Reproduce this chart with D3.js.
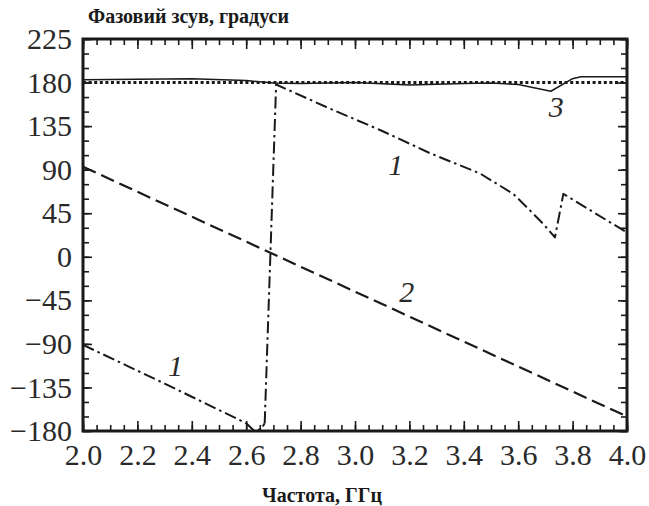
<!DOCTYPE html>
<html><head><meta charset="utf-8">
<script src="https://cdn.jsdelivr.net/npm/d3@7"></script>
<style>
body{margin:0;background:#fff;}
svg{display:block;}
svg text{font-family:"Liberation Serif","Times New Roman",serif;}
</style></head>
<body>
<svg id="c" width="649" height="506"></svg>
<script>
// Curve 1 (dash-dot): frequency (GHz) and phase (deg)
const curve1aFreq = [2.0, 2.3, 2.6, 2.63, 2.655, 2.668];
const curve1aPhase = [-91, -131, -172, -180, -178, -172];
const curve1bFreq = [2.668, 2.71, 2.908, 3.092, 3.276, 3.46, 3.582, 3.643, 3.692, 3.735, 3.766, 4.0];
const curve1bPhase = [-172, 178, 153, 131, 107, 86, 65, 48, 34, 20, 65, 25];
// Curve 2 (dashed)
const curve2Freq = [2.0, 4.0];
const curve2Phase = [93, -165];
// Curve 3 (solid)
const curve3Freq = [2.0, 2.2, 2.4, 2.6, 2.7, 2.8, 3.0, 3.2, 3.4, 3.5, 3.6, 3.72, 3.8, 3.83, 4.0];
const curve3Phase = [183, 183.5, 184, 182, 179.5, 179, 180, 177.5, 179, 179.5, 178, 171, 184, 186, 186];
// Reference (dotted)
const refFreq = [2.0, 4.0];
const refPhase = [180, 180];
// Ticks
const xTickLabels = [2.0, 2.2, 2.4, 2.6, 2.8, 3.0, 3.2, 3.4, 3.6, 3.8, 4.0];
const yTickLabels = [-180, -135, -90, -45, 0, 45, 90, 135, 180, 225];
const curveLabels = [
  {t: "1", f: 3.15, v: 95},
  {t: "1", f: 2.34, v: -112},
  {t: "2", f: 3.19, v: -36},
  {t: "3", f: 3.74, v: 155}
];
const titleY = "Фазовий зсув, градуси";
const titleX = "Частота, ГГц";

const L = 83, R = 627, T = 39, B = 431;
const svg = d3.select("#c");
const x = d3.scaleLinear().domain([2, 4]).range([L, R]);
const y = d3.scaleLinear().domain([-180, 225]).range([B, T]);
const ink = "#1a1a1a";
const serif = "'Liberation Serif','Times New Roman',serif";

const line = (fs, ps) => d3.line().x((d,i)=>x(fs[i])).y((d,i)=>y(ps[i]))(fs);

function addPath(fs, ps, dash, w) {
  svg.append("path").attr("d", line(fs, ps)).attr("fill", "none")
    .attr("stroke", ink).attr("stroke-width", w)
    .attr("stroke-dasharray", dash).attr("stroke-linejoin", "round");
}

// ticks (inward, all four sides)
const xMinor = d3.range(2, 4.0001, 0.05).map(v => +v.toFixed(2));
const xMajor = xTickLabels;
const yMinor = d3.range(-180, 225.001, 15);
const yMajor = yTickLabels;
function tickGroup(axis, tr) {
  const g = svg.append("g").attr("transform", tr).call(axis);
  g.select(".domain").remove();
  g.selectAll("line").attr("stroke", ink).attr("stroke-width", 1.6);
  g.selectAll("text").remove();
}
tickGroup(d3.axisBottom(x).tickValues(xMinor).tickSize(-6), `translate(0,${B})`);
tickGroup(d3.axisBottom(x).tickValues(xMajor).tickSize(-10), `translate(0,${B})`);
tickGroup(d3.axisTop(x).tickValues(xMinor).tickSize(-6), `translate(0,${T})`);
tickGroup(d3.axisTop(x).tickValues(xMajor).tickSize(-10), `translate(0,${T})`);
tickGroup(d3.axisLeft(y).tickValues(yMinor).tickSize(-6), `translate(${L},0)`);
tickGroup(d3.axisLeft(y).tickValues(yMajor).tickSize(-9), `translate(${L},0)`);
tickGroup(d3.axisRight(y).tickValues(yMinor).tickSize(-6), `translate(${R},0)`);
tickGroup(d3.axisRight(y).tickValues(yMajor).tickSize(-9), `translate(${R},0)`);

// labels
const gx = svg.append("g").attr("transform", `translate(0,${B})`)
  .call(d3.axisBottom(x).tickValues(xTickLabels).tickSize(0).tickPadding(13).tickFormat(d3.format(".1f")));
gx.attr("font-family", null).attr("font-size", null);
gx.select(".domain").remove();
gx.selectAll("text").style("font-size", "30px").style("font-family", serif).attr("fill", "#2a2a2a");
const gy = svg.append("g").attr("transform", `translate(${L},0)`)
  .call(d3.axisLeft(y).tickValues(yTickLabels).tickSize(0).tickPadding(11).tickFormat(d3.format("d")));
gy.attr("font-family", null).attr("font-size", null);
gy.select(".domain").remove();
gy.selectAll("text").style("font-size", "30px").style("font-family", serif).attr("fill", "#2a2a2a");

// curves
addPath(refFreq, refPhase, "3,2.6", 3);
addPath(curve3Freq, curve3Phase, null, 1.5);
addPath(curve2Freq, curve2Phase, "14,6", 2.2);
addPath(curve1aFreq, curve1aPhase, "12,4,2.5,4", 2);
addPath(curve1bFreq, curve1bPhase, "12,4,2.5,4", 2);

// frame
svg.append("rect").attr("x", L).attr("y", T).attr("width", R - L).attr("height", B - T)
  .attr("fill", "none").attr("stroke", ink).attr("stroke-width", 3);

// curve labels
svg.selectAll(".cl").data(curveLabels).join("text")
  .attr("x", d => x(d.f)).attr("y", d => y(d.v)).attr("dy", "0.35em")
  .attr("text-anchor", "middle").style("font-size", "30px").style("font-style", "italic")
  .style("font-family", serif).attr("fill", "#2a2a2a").text(d => d.t);

// titles
svg.append("text").attr("x", 88).attr("y", 23).style("font-size", "20px").style("font-weight", "bold")
  .style("font-family", serif).attr("fill", ink).text(titleY);
svg.append("text").attr("x", 322).attr("y", 502).attr("text-anchor", "middle").style("font-size", "20px")
  .style("font-weight", "bold").style("font-family", serif).attr("fill", ink).text(titleX);
</script>
</body></html>
